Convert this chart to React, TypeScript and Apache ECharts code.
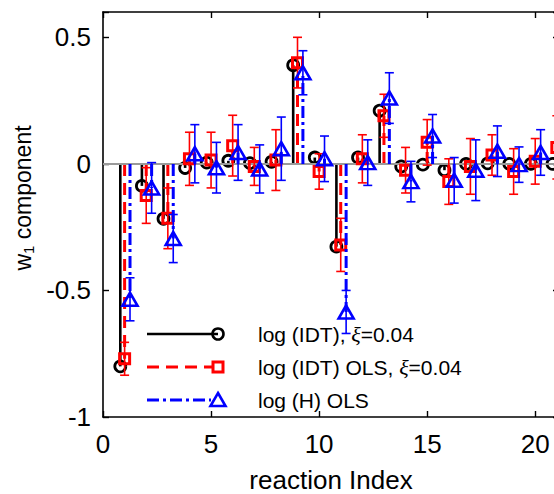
import React, { useEffect, useRef } from "react";
import * as echarts from "echarts";

const reactionIndex = [1, 2, 3, 4, 5, 6, 7, 8, 9, 10, 11, 12, 13, 14, 15, 16, 17, 18, 19, 20, 21];
const idtW1 = [-0.8, -0.087, -0.217, -0.016, 0.005, 0.012, 0.003, 0.008, 0.39, 0.025, -0.327, 0.025, 0.21, -0.01, -0.003, -0.025, 0.0, 0.002, 0.0, 0.0, 0.0];
const idtOlsW1 = [-0.77, -0.125, -0.215, 0.02, 0.015, 0.072, -0.01, 0.015, 0.4, -0.03, -0.32, 0.02, 0.19, -0.025, 0.085, -0.07, -0.01, 0.035, -0.03, 0.01, 0.065];
const idtOlsErr = [0.065, 0.11, 0.12, 0.105, 0.11, 0.12, 0.075, 0.12, 0.1, 0.07, 0.105, 0.095, 0.085, 0.09, 0.09, 0.09, 0.11, 0.08, 0.09, 0.09, 0.125];
const hOlsW1 = [-0.535, -0.095, -0.295, 0.04, -0.015, 0.045, -0.02, 0.06, 0.36, 0.02, -0.585, 0.005, 0.26, -0.07, 0.11, -0.065, -0.025, 0.05, -0.003, 0.045, 0.02];
const hOlsErr = [0.085, 0.1, 0.095, 0.115, 0.1, 0.11, 0.095, 0.125, 0.087, 0.09, 0.085, 0.09, 0.1, 0.08, 0.085, 0.09, 0.12, 0.1, 0.07, 0.09, 0.09];
const xTicks = [0, 5, 10, 15, 20];
const yTicks = [-1, -0.5, 0, 0.5];

const FONT = "'Liberation Sans', Arial, Helvetica, sans-serif";

export default function App() {
  const ref = useRef<HTMLDivElement>(null);
  useEffect(() => {
    document.body.style.margin = "0";
    document.body.style.overflow = "hidden";
    const chart = echarts.init(ref.current!, undefined, { renderer: "svg" });

    const offBlack = -0.2, offRed = 0, offBlue = 0.25;
    const black = reactionIndex.map((x, i) => [x + offBlack, idtW1[i]]);
    const red = reactionIndex.map((x, i) => [x + offRed, idtOlsW1[i]]);
    const blue = reactionIndex.map((x, i) => [x + offBlue, hOlsW1[i]]);
    const redErr = reactionIndex.map((x, i) => [x + offRed, idtOlsW1[i] - idtOlsErr[i], idtOlsW1[i] + idtOlsErr[i]]);
    const blueErr = reactionIndex.map((x, i) => [x + offBlue, hOlsW1[i] - hOlsErr[i], hOlsW1[i] + hOlsErr[i]]);

    const stem = (data: number[][], color: string, lw: number, dash: number[] | null, z: number) => ({
      type: "custom",
      z,
      data,
      renderItem: (params: any, api: any) => {
        const p0 = api.coord([api.value(0), 0]);
        const p1 = api.coord([api.value(0), api.value(1)]);
        return {
          type: "line",
          shape: { x1: p0[0], y1: p0[1], x2: p1[0], y2: p1[1] },
          style: { stroke: color, lineWidth: lw, lineDash: dash || undefined, fill: null },
        };
      },
    });

    const errBar = (data: number[][], color: string, z: number) => ({
      type: "custom",
      z,
      data,
      renderItem: (params: any, api: any) => {
        const lo = api.coord([api.value(0), api.value(1)]);
        const hi = api.coord([api.value(0), api.value(2)]);
        const cw = 4.5;
        const st = { stroke: color, lineWidth: 1.6, fill: null };
        return {
          type: "group",
          children: [
            { type: "line", shape: { x1: lo[0], y1: lo[1], x2: hi[0], y2: hi[1] }, style: st },
            { type: "line", shape: { x1: lo[0] - cw, y1: lo[1], x2: lo[0] + cw, y2: lo[1] }, style: st },
            { type: "line", shape: { x1: hi[0] - cw, y1: hi[1], x2: hi[0] + cw, y2: hi[1] }, style: st },
          ],
        };
      },
    });

    const legendRows = [
      { y: 334, text: "{n|log (IDT), }{x|ξ}{n|=0.04}" },
      { y: 367, text: "{n|log (IDT) OLS, }{x|ξ}{n|=0.04}" },
      { y: 400, text: "{n|log (H) OLS}" },
    ];
    const rich = {
      n: { fontSize: 21, fontFamily: FONT, fill: "#000" },
      x: { fontSize: 22, fontFamily: "'Liberation Serif', 'DejaVu Serif', serif", fontStyle: "italic", fill: "#000" },
    };
    const lx0 = 147, lx1 = 218, tx = 258;

    chart.setOption({
      animation: false,
      grid: { left: 103, right: 41, top: 12, bottom: 77, outerBoundsMode: "none", containLabel: false },
      xAxis: [
        {
          type: "value", min: 0, max: 21.1, interval: 5, position: "bottom",
          axisLine: { onZero: false, lineStyle: { color: "#000", width: 1.6 } },
          axisTick: { inside: true, length: 6, lineStyle: { color: "#000", width: 1.4 } },
          axisLabel: {
            color: "#000", fontSize: 26, fontFamily: FONT, margin: 14,
            formatter: (v: number) => (xTicks.includes(v) ? String(v) : ""),
          },
          splitLine: { show: false },
          name: "reaction Index", nameLocation: "middle", nameGap: 50,
          nameTextStyle: { color: "#000", fontSize: 26, fontFamily: FONT, lineHeight: 26 },
        },
        {
          type: "value", min: 0, max: 21.1, interval: 5, position: "top",
          axisLine: { onZero: false, lineStyle: { color: "#000", width: 1.6 } },
          axisTick: { inside: true, length: 6, lineStyle: { color: "#000", width: 1.4 } },
          axisLabel: { show: false }, splitLine: { show: false },
        },
      ],
      yAxis: [
        {
          type: "value", min: -1, max: 0.6, interval: 0.5, position: "left",
          axisLine: { onZero: false, lineStyle: { color: "#000", width: 1.6 } },
          axisTick: { inside: true, length: 6, lineStyle: { color: "#000", width: 1.4 } },
          axisLabel: {
            color: "#000", fontSize: 26, fontFamily: FONT, margin: 12,
            formatter: (v: number) => (yTicks.some((t) => Math.abs(t - v) < 1e-9) ? String(v) : ""),
          },
          splitLine: { show: false },
        },
        {
          type: "value", min: -1, max: 0.6, interval: 0.5, position: "right",
          axisLine: { onZero: false, lineStyle: { color: "#000", width: 1.6 } },
          axisTick: { inside: true, length: 6, lineStyle: { color: "#000", width: 1.4 } },
          axisLabel: { show: false }, splitLine: { show: false },
        },
      ],
      series: [
        {
          type: "line", data: [], z: 1,
          markLine: {
            silent: true, symbol: "none", label: { show: false },
            lineStyle: { color: "#9a9a9a", width: 2, type: "solid" },
            data: [{ yAxis: 0 }],
          },
        },
        stem(black, "#000", 2.6, null, 2),
        { type: "scatter", z: 3, data: black, symbol: "circle", symbolSize: 11, itemStyle: { color: "rgba(0,0,0,0)", borderColor: "#000", borderWidth: 2.8, opacity: 1 } },
        stem(red, "#ff0000", 3, [12, 7], 4),
        errBar(redErr, "#ff0000", 5),
        { type: "scatter", z: 6, data: red, symbol: "rect", symbolSize: 10, itemStyle: { color: "rgba(0,0,0,0)", borderColor: "#ff0000", borderWidth: 3, opacity: 1 } },
        stem(blue, "#0000ff", 3, [12, 4, 3, 4], 7),
        errBar(blueErr, "#0000ff", 8),
        { type: "scatter", z: 9, data: blue, symbol: "triangle", symbolSize: [15, 13], itemStyle: { color: "rgba(0,0,0,0)", borderColor: "#0000ff", borderWidth: 2.6, opacity: 1 } },
      ],
      graphic: [
        {
          type: "text", x: 23, y: 198, rotation: Math.PI / 2,
          style: {
            text: "{m|w}{s|1}{m| component}",
            align: "center", verticalAlign: "middle",
            rich: {
              m: { fontSize: 23, fontFamily: FONT, fill: "#000", lineHeight: 26 },
              s: { fontSize: 15, fontFamily: FONT, fill: "#000", lineHeight: 12, verticalAlign: "bottom" },
            },
          },
        },
        { type: "line", shape: { x1: lx0, y1: legendRows[0].y, x2: lx1, y2: legendRows[0].y }, style: { stroke: "#000", lineWidth: 2.6 } },
        { type: "circle", shape: { cx: lx1, cy: legendRows[0].y, r: 5.5 }, style: { stroke: "#000", lineWidth: 2.6, fill: "none" } },
        { type: "line", shape: { x1: lx0, y1: legendRows[1].y, x2: lx1 - 6, y2: legendRows[1].y }, style: { stroke: "#ff0000", lineWidth: 3, lineDash: [12, 7] } },
        { type: "rect", shape: { x: lx1 - 5, y: legendRows[1].y - 5, width: 10, height: 10 }, style: { stroke: "#ff0000", lineWidth: 3, fill: "none" } },
        { type: "line", shape: { x1: lx0, y1: legendRows[2].y, x2: lx1 - 7, y2: legendRows[2].y }, style: { stroke: "#0000ff", lineWidth: 3, lineDash: [12, 4, 3, 4] } },
        { type: "polygon", shape: { points: [[lx1, legendRows[2].y - 7], [lx1 + 7.5, legendRows[2].y + 6], [lx1 - 7.5, legendRows[2].y + 6]] }, style: { stroke: "#0000ff", lineWidth: 2.6, fill: "none" } },
        ...legendRows.map((r) => ({
          type: "text", x: tx, y: r.y,
          style: { text: r.text, rich, verticalAlign: "middle", align: "left" },
        })),
      ],
    });
    return () => chart.dispose();
  }, []);
  return (
    <div style={{ position: "fixed", left: 0, top: 0, width: 554, height: 494, overflow: "hidden", background: "#fff" }}>
      <div ref={ref} style={{ width: 600, height: 494 }} />
    </div>
  );
}
